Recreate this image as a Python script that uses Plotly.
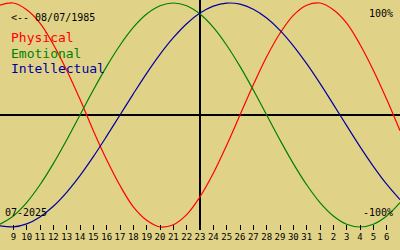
import plotly.graph_objects as go

# day offsets relative to the centre day (23 July 2025)
offsets = list(range(-15, 16))
tick_offsets = list(range(-14, 15))
tick_labels = ["9", "10", "11", "12", "13", "14", "15", "16", "17", "18", "19", "20",
               "21", "22", "23", "24", "25", "26", "27", "28", "29", "30", "31",
               "1", "2", "3", "4", "5", "6"]

physical = [0.98, 1.00, 0.94, 0.82, 0.63, 0.40, 0.14, -0.14, -0.40, -0.63, -0.82,
            -0.94, -1.00, -0.98, -0.89, -0.73, -0.52, -0.27, 0.00, 0.27, 0.52, 0.73,
            0.89, 0.98, 1.00, 0.94, 0.82, 0.63, 0.40, 0.14, -0.14]
emotional = [-0.975, -0.901, -0.782, -0.623, -0.434, -0.223, 0.0, 0.223, 0.434, 0.623,
             0.782, 0.901, 0.975, 1.0, 0.975, 0.901, 0.782, 0.623, 0.434, 0.223, 0.0,
             -0.223, -0.434, -0.623, -0.782, -0.901, -0.975, -1.0, -0.975, -0.901, -0.782]
intellectual = [-0.990, -0.999, -0.972, -0.910, -0.815, -0.690, -0.541, -0.372, -0.189,
                0.0, 0.189, 0.372, 0.541, 0.690, 0.815, 0.910, 0.972, 0.999, 0.990,
                0.945, 0.866, 0.756, 0.618, 0.458, 0.282, 0.095, -0.095, -0.282, -0.458,
                -0.618, -0.756]

series = [("Physical", physical, "#ff0000"),
          ("Emotional", emotional, "#008000"),
          ("Intellectual", intellectual, "#0000a0")]

BG = "rgb(224,211,136)"
MONO = "DejaVu Sans Mono"

fig = go.Figure()
for name, vals, col in series:
    fig.add_trace(go.Scatter(x=offsets, y=vals, mode="lines", name=name,
                             line=dict(color=col, width=1.2, shape="spline"),
                             hoverinfo="skip"))

fig.update_layout(
    width=400, height=250,
    margin=dict(l=0, r=0, t=0, b=20),
    paper_bgcolor=BG, plot_bgcolor=BG,
    showlegend=False,
    xaxis=dict(range=[-15, 15], showgrid=False, zeroline=True, zerolinecolor="black",
               zerolinewidth=2, tickmode="array", tickvals=tick_offsets,
               ticktext=tick_labels, ticks="inside", ticklen=5, tickwidth=1,
               tickcolor="black", showline=False,
               tickfont=dict(family=MONO, size=9, color="black")),
    yaxis=dict(range=[-1.0268, 1.0268], showgrid=False, zeroline=True,
               zerolinecolor="black", zerolinewidth=2, showticklabels=False,
               showline=False),
)

# paper coords are relative to plot area (height 230)
def ptxt(px, py, s, size, color="black", anchor="left"):
    fig.add_annotation(xref="paper", yref="paper", x=px / 400, y=1 - py / 230,
                       text=s, showarrow=False, xanchor=anchor, yanchor="middle",
                       font=dict(family=MONO, size=size, color=color))

ptxt(9, 17, "&lt;-- 08/07/1985", 10)
ptxt(9, 38, "Physical", 13, "#ff0000")
ptxt(9, 53, "Emotional", 13, "#008000")
ptxt(9, 68, "Intellectual", 13, "#0000a0")
ptxt(395, 13, "100%", 10, anchor="right")
ptxt(3, 212, "07-2025", 10)
ptxt(395, 212, "-100%", 10, anchor="right")

fig.write_html("out.html")
